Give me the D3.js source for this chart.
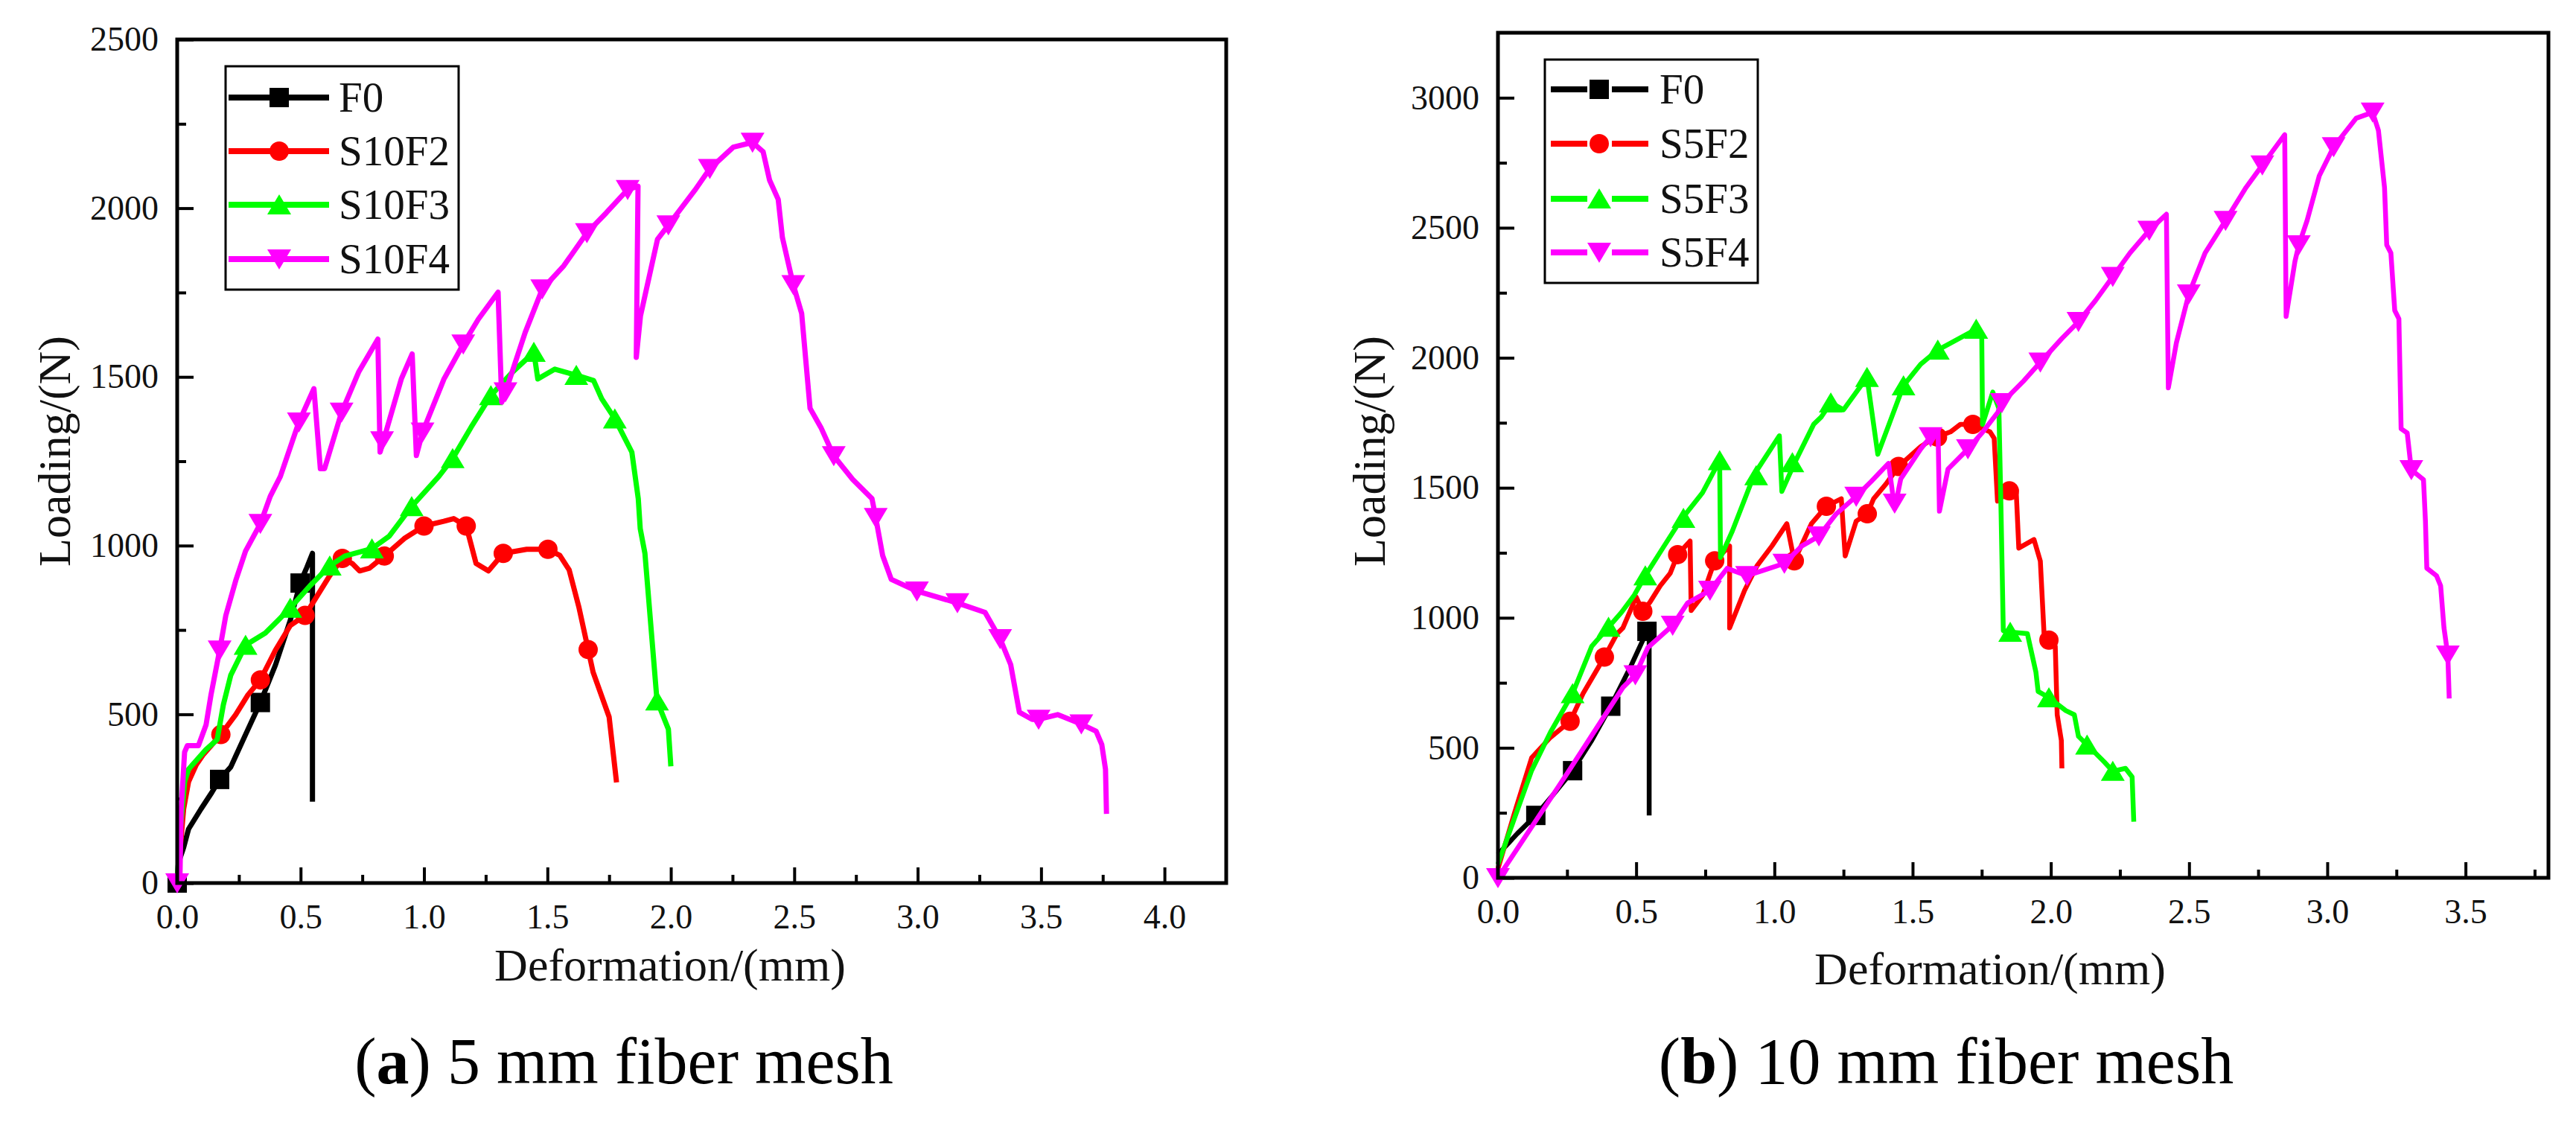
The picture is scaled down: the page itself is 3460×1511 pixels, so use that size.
<!DOCTYPE html>
<html>
<head>
<meta charset="utf-8">
<script src="https://cdn.jsdelivr.net/npm/d3@7"></script>
<style>
  html, body { margin: 0; padding: 0; background: #fff; }
  svg { display: block; }
  text { font-family: "Liberation Serif", "Times New Roman", serif; }
</style>
</head>
<body>
<svg id="chart" width="3460" height="1511"></svg>
<script>
// ---------------- Panel (a): 5 mm fiber mesh ----------------
const a_names = ["F0", "S10F2", "S10F3", "S10F4"];
const a_xTicks = [0, 0.5, 1.0, 1.5, 2.0, 2.5, 3.0, 3.5, 4.0];
const a_xMinor = [0.25, 0.75, 1.25, 1.75, 2.25, 2.75, 3.25, 3.75];
const a_yTicks = [0, 500, 1000, 1500, 2000, 2500];
const a_yMinor = [250, 750, 1250, 1750, 2250];

const a_F0 = [[0,0],[0.005,60],[0.026,105],[0.046,160],[0.096,219],[0.14,268],[0.172,307],[0.217,344],
  [0.277,440],[0.337,535],[0.398,646],[0.458,778],[0.498,889],[0.525,935],[0.548,977],[0.548,241]];
const a_F0_marks = [[0,0],[0.172,307],[0.337,535],[0.498,889]];

const a_S10F2 = [[0,0],[0.012,100],[0.026,219],[0.046,300],[0.077,350],[0.106,381],[0.177,440],[0.237,499],
  [0.287,558],[0.337,602],[0.398,690],[0.458,763],[0.518,793],[0.568,852],[0.618,911],[0.669,962],
  [0.709,947],[0.739,925],[0.779,933],[0.839,969],[0.92,1021],[1.0,1058],[1.08,1072],[1.12,1080],
  [1.171,1058],[1.211,947],[1.261,925],[1.321,977],[1.416,989],[1.502,989],[1.55,971],[1.588,928],
  [1.627,819],[1.665,692],[1.685,625],[1.75,492],[1.78,298]];
const a_S10F2_marks = [[0.177,440],[0.337,602],[0.518,793],[0.669,962],[0.839,969],[1.0,1058],
  [1.171,1058],[1.321,977],[1.502,989],[1.665,692]];

const a_S10F3 = [[0,0],[0.012,150],[0.03,300],[0.046,337],[0.117,396],[0.162,425],[0.187,528],[0.217,616],
  [0.277,705],[0.357,741],[0.408,778],[0.458,815],[0.538,881],[0.618,940],[0.679,969],[0.789,991],
  [0.859,1028],[0.95,1116],[1.06,1205],[1.116,1258],[1.19,1350],[1.271,1445],[1.358,1514],[1.445,1573],
  [1.461,1494],[1.53,1523],[1.617,1505],[1.687,1489],[1.72,1435],[1.773,1376],[1.842,1277],[1.868,1139],
  [1.876,1050],[1.895,977],[1.944,540],[1.99,456],[2.0,346]];
const a_S10F3_marks = [[0.277,705],[0.458,815],[0.618,940],[0.789,991],[0.95,1116],[1.116,1258],
  [1.271,1445],[1.445,1573],[1.617,1505],[1.773,1376],[1.944,540]];

const a_S10F4 = [[0,0],[0.011,13],[0.016,219],[0.03,388],[0.041,407],[0.086,407],[0.117,469],[0.137,558],
  [0.172,690],[0.197,793],[0.237,896],[0.277,984],[0.337,1065],[0.377,1146],[0.418,1205],[0.493,1366],
  [0.554,1465],[0.58,1228],[0.597,1228],[0.666,1395],[0.735,1514],[0.813,1612],[0.822,1277],[0.908,1494],
  [0.952,1568],[0.969,1267],[0.994,1336],[1.081,1494],[1.159,1597],[1.22,1671],[1.30,1751],[1.315,1425],
  [1.33,1455],[1.41,1632],[1.479,1760],[1.566,1829],[1.66,1927],[1.738,1986],[1.825,2055],[1.867,2065],
  [1.86,1558],[1.877,1681],[1.946,1908],[1.99,1950],[2.098,2054],[2.158,2117],[2.253,2181],[2.331,2195],
  [2.374,2167],[2.40,2083],[2.435,2026],[2.452,1913],[2.496,1773],[2.53,1688],[2.547,1547],[2.564,1407],
  [2.608,1350],[2.66,1266],[2.737,1196],[2.815,1139],[2.83,1083],[2.858,971],[2.893,900],[2.997,865],
  [3.161,830],[3.273,802],[3.334,724],[3.377,647],[3.412,506],[3.464,485],[3.49,485],[3.567,499],
  [3.663,471],[3.723,450],[3.746,410],[3.761,337],[3.765,205]];
const a_S10F4_marks = [[0,0],[0.172,690],[0.337,1065],[0.493,1366],[0.666,1395],[0.83,1310],[0.994,1336],
  [1.159,1597],[1.33,1455],[1.479,1760],[1.66,1927],[1.825,2055],[1.99,1950],[2.158,2117],[2.331,2195],
  [2.496,1773],[2.66,1266],[2.83,1083],[2.997,865],[3.161,830],[3.334,724],[3.49,485],[3.663,471]];

// ---------------- Panel (b): 10 mm fiber mesh ----------------
const b_names = ["F0", "S5F2", "S5F3", "S5F4"];
const b_xTicks = [0, 0.5, 1.0, 1.5, 2.0, 2.5, 3.0, 3.5];
const b_xMinor = [0.25, 0.75, 1.25, 1.75, 2.25, 2.75, 3.25, 3.75];
const b_yTicks = [0, 500, 1000, 1500, 2000, 2500, 3000];
const b_yMinor = [250, 750, 1250, 1750, 2250, 2750];

const b_F0 = [[0,90],[0.07,170],[0.137,240],[0.2,320],[0.27,412],[0.34,530],[0.408,660],[0.478,808],
  [0.539,948],[0.547,948],[0.547,240]];
const b_F0_marks = [[0.137,240],[0.27,412],[0.408,660],[0.539,948]];

const b_S5F2 = [[0,35],[0.06,250],[0.122,462],[0.19,540],[0.261,602],[0.308,709],[0.385,849],[0.431,939],
  [0.452,961],[0.50,1080],[0.524,1025],[0.55,1060],[0.587,1123],[0.623,1171],[0.65,1243],[0.695,1295],
  [0.699,1028],[0.74,1085],[0.784,1219],[0.838,1276],[0.838,961],[0.892,1105],[0.937,1200],[0.991,1276],
  [1.045,1362],[1.072,1219],[1.134,1362],[1.188,1429],[1.242,1458],[1.256,1238],[1.296,1372],[1.336,1400],
  [1.359,1458],[1.404,1515],[1.449,1582],[1.529,1658],[1.575,1690],[1.637,1715],[1.673,1744],[1.718,1744],
  [1.78,1715],[1.795,1690],[1.807,1449],[1.85,1488],[1.875,1480],[1.884,1268],[1.939,1301],[1.962,1218],
  [1.977,906],[1.993,914],[2.016,890],[2.023,627],[2.038,528],[2.04,421]];
const b_S5F2_marks = [[0.261,602],[0.385,849],[0.524,1025],[0.65,1243],[0.784,1219],
  [1.072,1219],[1.188,1429],[1.336,1400],[1.449,1582],[1.59,1695],[1.718,1744],[1.85,1488],[1.993,914]];

const b_S5F3 = [[0,52],[0.06,230],[0.122,413],[0.19,560],[0.27,709],[0.339,890],[0.40,964],[0.447,1021],
  [0.493,1087],[0.533,1162],[0.601,1276],[0.659,1372],[0.74,1481],[0.802,1605],[0.805,1232],[0.848,1334],
  [0.928,1553],[1.018,1700],[1.027,1486],[1.075,1600],[1.142,1744],[1.17,1773],[1.204,1827],[1.25,1800],
  [1.335,1925],[1.374,1629],[1.467,1893],[1.529,1975],[1.591,2030],[1.652,2065],[1.73,2110],[1.75,2090],
  [1.753,1744],[1.79,1868],[1.812,1805],[1.82,1400],[1.828,950],[1.853,945],[1.915,939],[1.946,791],
  [1.954,717],[1.993,693],[2.054,643],[2.085,627],[2.1,544],[2.131,511],[2.162,479],[2.193,446],
  [2.224,410],[2.27,421],[2.294,388],[2.30,216]];
const b_S5F3_marks = [[0.27,709],[0.40,964],[0.533,1162],[0.671,1383],[0.802,1605],[0.934,1547],
  [1.065,1597],[1.204,1827],[1.335,1925],[1.467,1893],[1.591,2030],[1.73,2110],[1.853,945],[1.993,693],
  [2.131,511],[2.224,410]];

const b_S5F4 = [[0,0],[0.25,401],[0.452,732],[0.497,780],[0.542,885],[0.632,971],[0.686,1057],[0.767,1105],
  [0.829,1190],[0.901,1162],[0.955,1181],[1.036,1209],[1.099,1276],[1.161,1314],[1.224,1400],[1.296,1467],
  [1.35,1524],[1.413,1594],[1.435,1420],[1.457,1534],[1.529,1649],[1.565,1696],[1.592,1720],[1.597,1410],
  [1.628,1572],[1.7,1649],[1.754,1715],[1.808,1790],[1.823,1827],[1.9,1909],[1.962,1983],[2.039,2073],
  [2.1,2139],[2.162,2221],[2.224,2312],[2.286,2403],[2.356,2490],[2.418,2552],[2.425,1884],[2.454,2057],
  [2.499,2245],[2.558,2403],[2.632,2528],[2.706,2655],[2.765,2741],[2.846,2858],[2.851,2159],[2.883,2371],
  [2.897,2434],[2.927,2528],[2.971,2700],[3.023,2811],[3.104,2921],[3.164,2944],[3.185,2874],[3.207,2655],
  [3.215,2434],[3.23,2403],[3.244,2182],[3.259,2150],[3.267,1727],[3.289,1711],[3.304,1569],[3.348,1531],
  [3.355,1372],[3.36,1191],[3.395,1162],[3.41,1123],[3.422,962],[3.436,856],[3.441,690]];
const b_S5F4_marks = [[0,0],[0.497,780],[0.632,971],[0.767,1105],[0.901,1162],[1.036,1209],[1.161,1314],
  [1.296,1467],[1.435,1440],[1.565,1696],[1.7,1649],[1.823,1827],[1.962,1983],[2.1,2139],[2.224,2312],
  [2.356,2490],[2.499,2245],[2.632,2528],[2.765,2741],[2.897,2434],[3.023,2811],[3.164,2944],[3.304,1569],
  [3.436,856]];

// ---------------- Shared styling ----------------
const colors = ["#000000", "#ff0000", "#00ff00", "#ff00ff"];
const symbols = ["square", "circle", "up", "down"];
const circlePath = d3.symbol(d3.symbolCircle, 530)();
function symPath(t) {
  if (t === "square") return "M-13,-13H13V13H-13Z";
  if (t === "circle") return circlePath;
  if (t === "up") return "M0,-14L16,13L-16,13Z";
  return "M0,14L16,-13L-16,-13Z";
}

const svg = d3.select("#chart");
svg.append("rect").attr("width", 3460).attr("height", 1511).attr("fill", "#fff");

function drawPanel(cfg) {
  const g = svg.append("g");
  const x = d3.scaleLinear().domain(cfg.xDom).range([cfg.left, cfg.right]);
  const y = d3.scaleLinear().domain(cfg.yDom).range([cfg.bottom, cfg.top]);

  // minor ticks
  g.append("g").attr("transform", `translate(0,${cfg.bottom})`)
    .call(d3.axisBottom(x).tickValues(cfg.xMinor).tickSize(-11).tickFormat(""))
    .call(s => s.select(".domain").remove())
    .call(s => s.selectAll("line").attr("stroke", "#000").attr("stroke-width", 4));
  g.append("g").attr("transform", `translate(${cfg.left},0)`)
    .call(d3.axisLeft(y).tickValues(cfg.yMinor).tickSize(-12).tickFormat(""))
    .call(s => s.select(".domain").remove())
    .call(s => s.selectAll("line").attr("stroke", "#000").attr("stroke-width", 4));

  // major ticks + labels
  g.append("g").attr("transform", `translate(0,${cfg.bottom})`)
    .call(d3.axisBottom(x).tickValues(cfg.xMajor).tickSize(-21).tickPadding(28).tickFormat(d3.format(".1f")))
    .call(s => s.select(".domain").remove())
    .call(s => s.selectAll("line").attr("stroke", "#000").attr("stroke-width", 4))
    .call(s => s.selectAll("text").attr("fill", "#111").attr("font-size", 46)
      .attr("font-family", '"Liberation Serif", "Times New Roman", serif'));
  g.append("g").attr("transform", `translate(${cfg.left},0)`)
    .call(d3.axisLeft(y).tickValues(cfg.yMajor).tickSize(-22).tickPadding(25).tickFormat(d3.format("d")))
    .call(s => s.select(".domain").remove())
    .call(s => s.selectAll("line").attr("stroke", "#000").attr("stroke-width", 4))
    .call(s => s.selectAll("text").attr("fill", "#111").attr("font-size", 46)
      .attr("font-family", '"Liberation Serif", "Times New Roman", serif'));

  // series
  const line = d3.line().x(d => x(d[0])).y(d => y(d[1]));
  cfg.series.forEach((s, i) => {
    g.append("path").datum(s.data).attr("d", line)
      .attr("fill", "none").attr("stroke", colors[i]).attr("stroke-width", cfg.lw)
      .attr("stroke-linejoin", "round").attr("stroke-linecap", "butt");
    g.append("g").selectAll("path").data(s.marks).join("path")
      .attr("d", symPath(symbols[i]))
      .attr("transform", d => `translate(${x(d[0])},${y(d[1])})`)
      .attr("fill", colors[i]);
  });

  // frame
  g.append("rect").attr("x", cfg.left).attr("y", cfg.top)
    .attr("width", cfg.right - cfg.left).attr("height", cfg.bottom - cfg.top)
    .attr("fill", "none").attr("stroke", "#000").attr("stroke-width", 5);

  // legend
  const L = cfg.legend;
  g.append("rect").attr("x", L.x).attr("y", L.y).attr("width", L.w).attr("height", L.h)
    .attr("fill", "#fff").attr("stroke", "#000").attr("stroke-width", 3);
  cfg.names.forEach((n, i) => {
    const ry = L.rows[i];
    L.segs.forEach(sg => {
      g.append("line").attr("x1", sg[0]).attr("x2", sg[1]).attr("y1", ry).attr("y2", ry)
        .attr("stroke", colors[i]).attr("stroke-width", 8);
    });
    g.append("path").attr("d", symPath(symbols[i]))
      .attr("transform", `translate(${L.mx},${ry})`).attr("fill", colors[i]);
    g.append("text").attr("x", L.tx).attr("y", ry + 19).attr("font-size", 57)
      .attr("fill", "#111").text(n);
  });

  // axis titles
  g.append("text").attr("transform", `translate(${cfg.yTitle[0]},${cfg.yTitle[1]}) rotate(-90)`)
    .attr("text-anchor", "middle").attr("dominant-baseline", "central")
    .attr("font-size", 62).attr("fill", "#111").text("Loading/(N)");
  g.append("text").attr("x", cfg.xTitle[0]).attr("y", cfg.xTitle[1])
    .attr("text-anchor", "middle").attr("font-size", 62).attr("fill", "#111").text("Deformation/(mm)");

  // caption
  const cap = g.append("text").attr("x", cfg.caption[0]).attr("y", cfg.caption[1])
    .attr("text-anchor", "middle").attr("font-size", 88).attr("fill", "#000");
  cap.append("tspan").text("(");
  cap.append("tspan").attr("font-weight", "bold").text(cfg.capLetter);
  cap.append("tspan").text(") " + cfg.capText);
}

drawPanel({
  left: 238, right: 1647, bottom: 1186, top: 53,
  xDom: [0, 4.25], yDom: [0, 2500],
  xMajor: a_xTicks, xMinor: a_xMinor, yMajor: a_yTicks, yMinor: a_yMinor,
  lw: 7,
  names: a_names,
  series: [
    {data: a_F0, marks: a_F0_marks},
    {data: a_S10F2, marks: a_S10F2_marks},
    {data: a_S10F3, marks: a_S10F3_marks},
    {data: a_S10F4, marks: a_S10F4_marks}
  ],
  legend: {x: 303, y: 89, w: 313, h: 300, rows: [131, 203, 275, 348],
           segs: [[307, 442]], mx: 375, tx: 455},
  yTitle: [73, 606], xTitle: [900, 1317],
  caption: [838, 1455], capLetter: "a", capText: "5 mm fiber mesh"
});

drawPanel({
  left: 2012, right: 3423, bottom: 1179, top: 44,
  xDom: [0, 3.8], yDom: [0, 3250],
  xMajor: b_xTicks, xMinor: b_xMinor, yMajor: b_yTicks, yMinor: b_yMinor,
  lw: 6.5,
  names: b_names,
  series: [
    {data: b_F0, marks: b_F0_marks},
    {data: b_S5F2, marks: b_S5F2_marks},
    {data: b_S5F3, marks: b_S5F3_marks},
    {data: b_S5F4, marks: b_S5F4_marks}
  ],
  legend: {x: 2075, y: 80, w: 286, h: 300, rows: [120, 193, 267, 339],
           segs: [[2083, 2132], [2165, 2214]], mx: 2148, tx: 2229},
  yTitle: [1839, 606], xTitle: [2673, 1322],
  caption: [2614, 1455], capLetter: "b", capText: "10 mm fiber mesh"
});
</script>
</body>
</html>
